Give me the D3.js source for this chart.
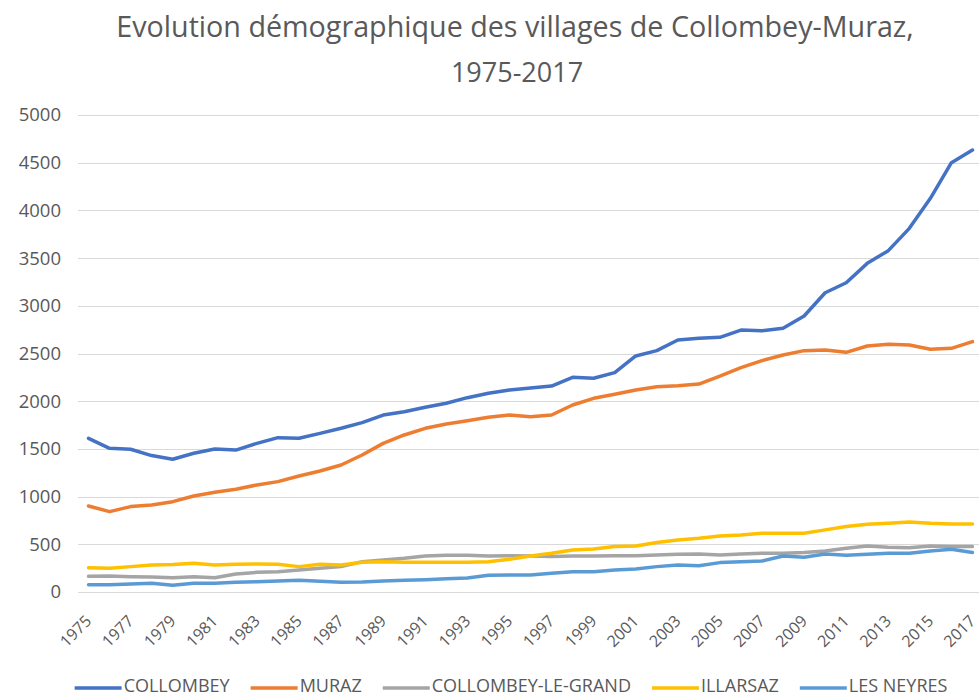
<!DOCTYPE html>
<html>
<head>
<meta charset="utf-8">
<script src="https://cdn.jsdelivr.net/npm/d3@7"></script>
<style>
    body { margin: 0; background: #fff; }
    text { font-family: "Open Sans", sans-serif; fill: #595959; }
</style>
</head>
<body>
<svg id="chart" width="979" height="697"></svg>
<script>
// data
const years = d3.range(1975, 2018);
const y_ticks = [0, 500, 1000, 1500, 2000, 2500, 3000, 3500, 4000, 4500, 5000];
const series_names = ["COLLOMBEY", "MURAZ", "COLLOMBEY-LE-GRAND", "ILLARSAZ", "LES NEYRES"];
const series_colors = ["#4472c4", "#ed7d31", "#a5a5a5", "#ffc000", "#5b9bd5"];

const collombey = [1611, 1506, 1496, 1430, 1391, 1454, 1499, 1488, 1558, 1618, 1611, 1663, 1716, 1775, 1855,
    1890, 1936, 1978, 2037, 2083, 2117, 2138, 2159, 2250, 2240, 2299, 2474, 2530, 2642,
    2659, 2670, 2746, 2739, 2764, 2893, 3137, 3242, 3445, 3578, 3812, 4127, 4500, 4633];
const muraz = [901, 842, 895, 912, 947, 1006, 1045, 1077, 1122, 1157, 1216, 1268, 1331, 1436, 1558,
    1646, 1716, 1761, 1796, 1831, 1855, 1838, 1855, 1960, 2030, 2072, 2117, 2152, 2163,
    2180, 2264, 2351, 2425, 2484, 2530, 2537, 2512, 2579, 2596, 2589, 2544, 2554, 2624];
const collombey_le_grand = [164, 168, 161, 157, 150, 161, 150, 189, 206, 213, 231, 248, 266, 318, 336,
    353, 378, 385, 385, 378, 381, 378, 371, 378, 378, 381, 381, 388, 395,
    399, 388, 399, 406, 406, 413, 430, 458, 483, 469, 465, 483, 476, 476];
const illarsaz = [255, 248, 266, 283, 287, 301, 283, 290, 294, 290, 266, 290, 283, 311, 318,
    311, 311, 311, 311, 318, 343, 378, 406, 441, 451, 476, 483, 518, 546,
    563, 588, 598, 616, 616, 616, 651, 686, 710, 721, 735, 721, 714, 714];
const les_neyres = [77, 77, 84, 91, 70, 91, 91, 101, 108, 115, 122, 112, 101, 105, 115,
    122, 129, 140, 147, 175, 178, 178, 196, 213, 213, 231, 241, 266, 283,
    276, 308, 318, 325, 378, 364, 399, 385, 395, 406, 406, 430, 448, 413];

const series_values = [collombey, muraz, collombey_le_grand, illarsaz, les_neyres];

// layout
const svg = d3.select("#chart");
const plot = { left: 78, right: 983, top: 115, bottom: 592 };

const x = d3.scalePoint()
    .domain(years)
    .range([plot.left, plot.right])
    .padding(0.5);

const y = d3.scaleLinear()
    .domain([0, 5000])
    .range([plot.bottom, plot.top]);

// title
svg.append("text")
    .attr("x", 515)
    .attr("y", 37)
    .attr("text-anchor", "middle")
    .style("font-size", "28.7px")
    .text("Evolution démographique des villages de Collombey-Muraz,");
svg.append("text")
    .attr("x", 517)
    .attr("y", 82)
    .attr("text-anchor", "middle")
    .style("font-size", "27px")
    .text("1975-2017");

// grid
svg.append("g")
    .selectAll("line")
    .data(y_ticks)
    .join("line")
    .attr("x1", plot.left)
    .attr("x2", 979)
    .attr("y1", (d) => Math.round(y(d)) + 0.5)
    .attr("y2", (d) => Math.round(y(d)) + 0.5)
    .attr("stroke", "#d9d9d9")
    .attr("stroke-width", 1);

// y axis labels
svg.append("g")
    .selectAll("text")
    .data(y_ticks)
    .join("text")
    .attr("x", 61)
    .attr("y", (d) => y(d))
    .attr("dy", "0.35em")
    .attr("text-anchor", "end")
    .style("font-size", "18.5px")
    .text((d) => d);

// x axis labels, every other year, rotated
svg.append("g")
    .selectAll("text")
    .data(years.filter((d) => (d - 1975) % 2 === 0))
    .join("text")
    .attr("transform", (d) => `translate(${x(d) + 4},${plot.bottom + 30}) rotate(-45)`)
    .attr("text-anchor", "end")
    .style("font-size", "16px")
    .text((d) => d);

// lines
const line = d3.line()
    .x((d, i) => x(years[i]))
    .y((d) => y(d));

svg.append("g")
    .selectAll("path")
    .data(series_values)
    .join("path")
    .attr("d", line)
    .attr("fill", "none")
    .attr("stroke", (d, i) => series_colors[i])
    .attr("stroke-width", 3.5)
    .attr("stroke-linejoin", "round")
    .attr("stroke-linecap", "round");

// legend
const legend = svg.append("g");
const swatch_w = 47;
const gap = 21;
let pos = 0;
series_names.forEach((name, i) => {
    const item = legend.append("g").attr("transform", `translate(${pos},0)`);
    item.append("line")
        .attr("x1", 0)
        .attr("x2", swatch_w)
        .attr("y1", 688)
        .attr("y2", 688)
        .attr("stroke", series_colors[i])
        .attr("stroke-width", 3.5);
    const label = item.append("text")
        .attr("x", swatch_w + 2)
        .attr("y", 692)
        .style("font-size", "18px")
        .text(name);
    pos += swatch_w + 2 + label.node().getComputedTextLength() + gap;
});
const legend_w = pos - gap;
legend.attr("transform", `translate(${511 - legend_w / 2},0)`);
</script>
</body>
</html>
